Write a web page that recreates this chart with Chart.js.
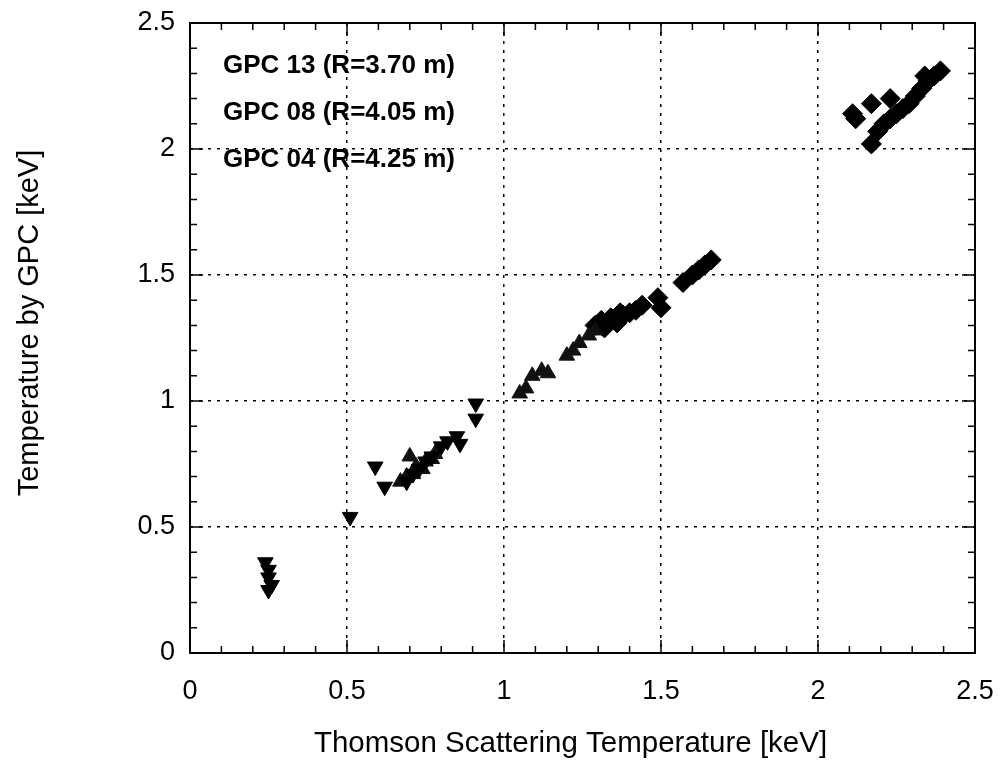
<!DOCTYPE html>
<html>
<head>
<meta charset="utf-8">
<script src="https://cdn.jsdelivr.net/npm/chart.js@4.4.1/dist/chart.umd.min.js"></script>
<style>
  body { margin: 0; background: #fff; }
</style>
</head>
<body>
<canvas id="grafica" width="1000" height="764"></canvas>
<script>
// datos (keV)
const etiquetas = ['GPC 13 (R=3.70 m)', 'GPC 08 (R=4.05 m)', 'GPC 04 (R=4.25 m)'];

const gpc13X = [1.29, 1.31, 1.32, 1.34, 1.36, 1.37, 1.38, 1.40, 1.42, 1.44, 1.49, 1.50, 1.57, 1.60, 1.62, 1.64, 1.66,
                2.11, 2.12, 2.17, 2.23, 2.17, 2.19, 2.21, 2.23, 2.25, 2.27, 2.29, 2.31, 2.33, 2.34, 2.35, 2.37, 2.39];
const gpc13Y = [1.30, 1.32, 1.29, 1.33, 1.31, 1.35, 1.34, 1.35, 1.36, 1.38, 1.41, 1.37, 1.47, 1.50, 1.52, 1.54, 1.56,
                2.14, 2.12, 2.18, 2.20, 2.02, 2.07, 2.10, 2.12, 2.14, 2.16, 2.18, 2.21, 2.24, 2.29, 2.27, 2.29, 2.31];

const gpc08X = [0.67, 0.69, 0.70, 0.71, 0.72, 0.74, 0.75, 0.77, 0.78,
                1.05, 1.07, 1.09, 1.12, 1.14, 1.20, 1.22, 1.24, 1.27, 1.29];
const gpc08Y = [0.68, 0.70, 0.78, 0.71, 0.74, 0.73, 0.76, 0.77, 0.79,
                1.03, 1.05, 1.10, 1.12, 1.11, 1.18, 1.20, 1.23, 1.26, 1.28];

const gpc04X = [0.24, 0.25, 0.25, 0.26, 0.25, 0.51, 0.59, 0.62, 0.69, 0.71, 0.73, 0.75, 0.77,
                0.80, 0.82, 0.85, 0.86, 0.91, 0.91];
const gpc04Y = [0.36, 0.33, 0.30, 0.27, 0.25, 0.54, 0.74, 0.66, 0.68, 0.71, 0.73, 0.76, 0.78,
                0.82, 0.84, 0.86, 0.83, 0.99, 0.93];

const tituloX = 'Thomson Scattering Temperature [keV]';
const tituloY = 'Temperature by GPC [keV]';

const fuente = "'Liberation Sans', Arial, Helvetica, sans-serif";

function puntos(xs, ys) {
  return xs.map((x, i) => ({ x: x, y: ys[i] }));
}

// marco con marcas hacia adentro
const marco = {
  id: 'marco',
  afterDatasetsDraw(chart) {
    const { ctx, chartArea: a, scales: { x, y } } = chart;
    ctx.save();
    ctx.strokeStyle = '#000';
    ctx.lineWidth = 2;
    ctx.strokeRect(a.left, a.top, a.right - a.left, a.bottom - a.top);
    ctx.lineWidth = 1.5;
    for (let i = 0; i <= 25; i++) {
      const v = i / 10;
      const largo = i % 5 === 0 ? 13 : 7;
      const px = x.getPixelForValue(v);
      const py = y.getPixelForValue(v);
      ctx.beginPath();
      ctx.moveTo(px, a.bottom); ctx.lineTo(px, a.bottom - largo);
      ctx.moveTo(px, a.top); ctx.lineTo(px, a.top + largo);
      ctx.moveTo(a.left, py); ctx.lineTo(a.left + largo, py);
      ctx.moveTo(a.right, py); ctx.lineTo(a.right - largo, py);
      ctx.stroke();
    }
    ctx.restore();
  }
};

// leyenda solo texto y titulos de los ejes (algo corridos del centro, como en el original)
const textos = {
  id: 'textos',
  afterDraw(chart) {
    const { ctx, chartArea: a } = chart;
    ctx.save();
    ctx.fillStyle = '#000';
    ctx.font = 'bold 26px ' + fuente;
    ctx.textBaseline = 'middle';
    etiquetas.forEach((t, i) => {
      ctx.fillText(t, a.left + 33, a.top + 43 + i * 47);
    });

    ctx.font = '29.5px ' + fuente;
    ctx.textAlign = 'center';
    ctx.fillText(tituloX, (a.left + a.right) / 2 - 12, a.bottom + 91);

    ctx.translate(30, (a.top + a.bottom) / 2 - 15);
    ctx.rotate(-Math.PI / 2);
    ctx.font = '29px ' + fuente;
    ctx.fillText(tituloY, 0, 0);
    ctx.restore();
  }
};

const lineaGrilla = ctx => (ctx.tick && (ctx.tick.value === 0 || ctx.tick.value === 2.5)) ? 'rgba(0,0,0,0)' : '#000';

new Chart(document.getElementById('grafica'), {
  type: 'scatter',
  data: {
    datasets: [
      {
        label: etiquetas[2],
        data: puntos(gpc04X, gpc04Y),
        pointStyle: 'triangle',
        rotation: 180,
        pointRadius: 9,
        backgroundColor: '#000',
        borderColor: '#000',
        borderWidth: 1
      },
      {
        label: etiquetas[1],
        data: puntos(gpc08X, gpc08Y),
        pointStyle: 'triangle',
        pointRadius: 9,
        backgroundColor: '#111',
        borderColor: '#111',
        borderWidth: 1
      },
      {
        label: etiquetas[0],
        data: puntos(gpc13X, gpc13Y),
        pointStyle: 'rectRot',
        pointRadius: 10,
        backgroundColor: '#000',
        borderColor: '#000',
        borderWidth: 1
      }
    ]
  },
  options: {
    responsive: false,
    animation: false,
    layout: { padding: { top: 23, right: 25, left: 0, bottom: 0 } },
    plugins: {
      legend: { display: false },
      tooltip: { enabled: false }
    },
    scales: {
      x: {
        type: 'linear',
        min: 0,
        max: 2.5,
        afterFit: s => { s.height = 111; s.paddingLeft = 0; s.paddingRight = 0; },
        ticks: { stepSize: 0.5, callback: v => String(v), color: '#000',
                 font: { family: fuente, size: 27 }, padding: 22, maxRotation: 0 },
        grid: { color: lineaGrilla, lineWidth: 1.5, drawTicks: false },
        border: { display: false, dash: [3, 6] },
        title: { display: false }
      },
      y: {
        type: 'linear',
        min: 0,
        max: 2.5,
        afterFit: s => { s.width = 190; s.paddingTop = 0; s.paddingBottom = 0; },
        ticks: { stepSize: 0.5, callback: v => String(v), color: '#000',
                 font: { family: fuente, size: 27 }, padding: 15 },
        grid: { color: lineaGrilla, lineWidth: 1.5, drawTicks: false },
        border: { display: false, dash: [3, 6] },
        title: { display: false }
      }
    }
  },
  plugins: [marco, textos]
});
</script>
</body>
</html>
